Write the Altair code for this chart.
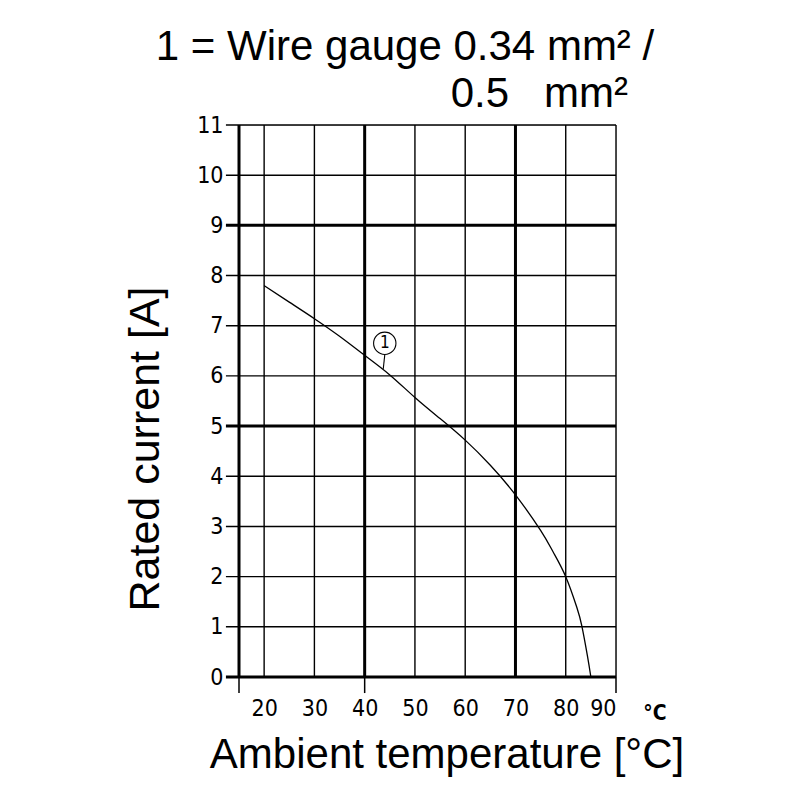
import altair as alt
import pandas as pd

# Curve 1
temps = [20, 25, 30, 35, 40, 45, 50, 55, 60, 65, 70, 75, 77.5, 80, 82.2, 83.2, 84.3, 85]
current = [7.8, 7.47, 7.14, 6.79, 6.41, 6.02, 5.57, 5.15, 4.72, 4.22, 3.63, 2.92, 2.49, 2.0, 1.39, 1.02, 0.43, 0.0]

x_ticks = [20, 30, 40, 50, 60, 70, 80, 90]
y_ticks = list(range(0, 12))
v_thin = [20, 30, 50, 60, 80, 90]
v_thick = [15, 40, 70]
h_thin = [1, 2, 3, 4, 6, 7, 8, 10, 11]
h_thick = [0, 5, 9]
v_ext = [15, 40, 90]

marker_x = [44.0]
marker_y = [6.65]
marker_label = ["1"]
leader_x = [44.0, 43.7]
leader_y = [6.42, 6.14]

title_line1 = "1 = Wire gauge 0.34 mm² /"
title_line2 = "0.5\u00a0\u00a0\u00a0mm²"
y_title = "Rated current [A]"
x_title = "Ambient temperature [°C]"
unit = "°C"

XMIN, XMAX = 15, 90
YMIN, YMAX = 0, 11
TICK_LEFT = 12.4
EXT_BOTTOM = -0.32

xs = alt.Scale(domain=[XMIN, XMAX], nice=False, zero=False)
ys = alt.Scale(domain=[YMIN, YMAX], nice=False, zero=False)

NARROW = "DejaVu Sans Condensed"
ARIAL = "Liberation Sans"

xa = alt.Axis(values=x_ticks, ticks=False, domain=False, grid=False, labelPadding=20, title=None)
ya = alt.Axis(values=y_ticks, ticks=False, domain=False, grid=False, labelPadding=16, title=None)

def X(field):
    return alt.X(field, scale=xs, axis=xa)

def Y(field):
    return alt.Y(field, scale=ys, axis=ya)

curve_df = pd.DataFrame({"t": temps, "i": current})

def vrules(vals, width, y0):
    df = pd.DataFrame({"x": vals, "y0": [y0] * len(vals), "y1": [YMAX] * len(vals)})
    return alt.Chart(df).mark_rule(color="black", strokeWidth=width).encode(
        x=X("x:Q"), y=Y("y0:Q"), y2="y1:Q",
    )

def hrules(vals, width):
    df = pd.DataFrame({"y": vals, "x0": [TICK_LEFT] * len(vals), "x1": [XMAX] * len(vals)})
    return alt.Chart(df).mark_rule(color="black", strokeWidth=width).encode(
        y=Y("y:Q"), x=X("x0:Q"), x2="x1:Q",
    )

ext_df = pd.DataFrame({"x": v_ext, "y0": [EXT_BOTTOM] * len(v_ext), "y1": [0] * len(v_ext)})
ext = alt.Chart(ext_df).mark_rule(color="black", strokeWidth=1.5).encode(
    x=X("x:Q"), y=Y("y0:Q"), y2="y1:Q",
)

curve = alt.Chart(curve_df).mark_line(color="black", strokeWidth=1.3, interpolate="natural").encode(
    x=X("t:Q"), y=Y("i:Q")
)

mk_df = pd.DataFrame({"x": marker_x, "y": marker_y, "l": marker_label})
circle = alt.Chart(mk_df).mark_point(shape="circle", size=500, filled=False, color="black", strokeWidth=1.1, opacity=1).encode(
    x=X("x:Q"), y=Y("y:Q")
)
circle_txt = alt.Chart(mk_df).mark_text(font=NARROW, fontSize=17, color="black", baseline="middle", align="center").encode(
    x=X("x:Q"), y=Y("y:Q"), text="l:N"
)
ld_df = pd.DataFrame({"x": leader_x, "y": leader_y})
leader = alt.Chart(ld_df).mark_line(color="black", strokeWidth=1.1).encode(
    x=X("x:Q"), y=Y("y:Q")
)

def label(text, x, y, size, font=ARIAL, align="center", angle=0, weight="normal"):
    df = pd.DataFrame({"s": [text]})
    return alt.Chart(df).mark_text(font=font, fontSize=size, color="black", align=align,
                                   baseline="alphabetic", angle=angle, fontWeight=weight).encode(
        x=alt.value(x), y=alt.value(y), text="s:N"
    )

t1 = label(title_line1, 166, -65, 42)
t2 = label(title_line2, 389, -18, 42, align="right")
yt = label(y_title, -80, 324, 43, angle=270)
xt = label(x_title, 208, 643, 42)
ut = label(unit, 416, 595, 21, font=NARROW, weight="bold")

chart = alt.layer(
    vrules(v_thin, 1.4, 0), vrules(v_thick, 3, 0), hrules(h_thin, 1.4), hrules(h_thick, 3), ext,
    curve, leader, circle, circle_txt, t1, t2, yt, xt, ut
).properties(
    width=377, height=552,
    autosize=alt.AutoSizeParams(type="none"),
    padding={"left": 231, "top": 117, "right": 150, "bottom": 100},
).configure_view(stroke=None).configure(background="white").configure_axis(
    labelFont=NARROW, labelFontSize=23, labelColor="black"
)

chart.save("out.html", embed_options={"renderer": "svg", "actions": False})
